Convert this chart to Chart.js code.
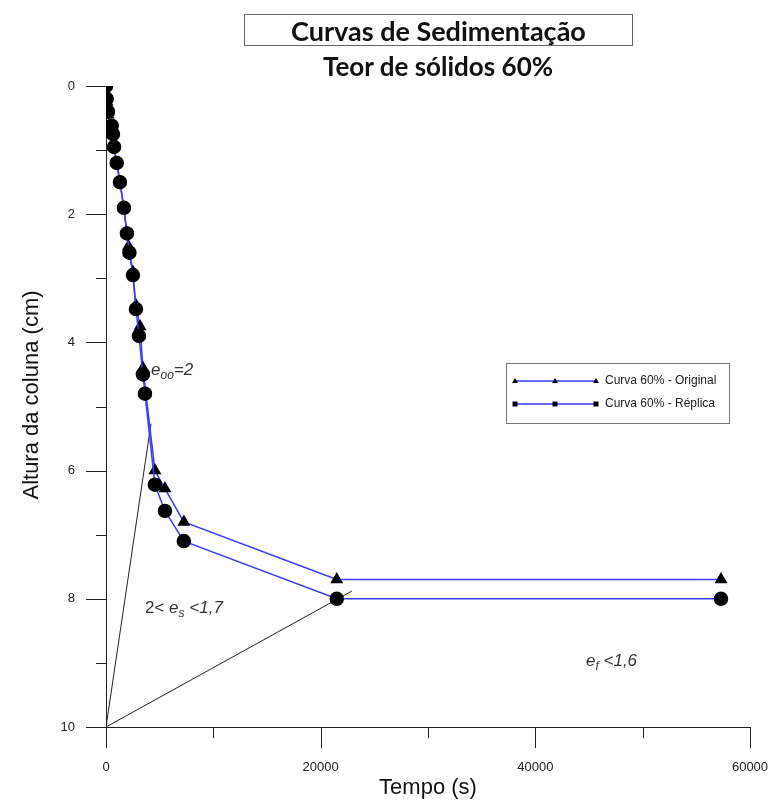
<!DOCTYPE html>
<html lang="pt">
<head>
  <meta charset="UTF-8" />
  <title>Curvas de Sedimentação</title>
  <script src="https://cdn.jsdelivr.net/npm/chart.js"></script>
  <style>
    body { margin: 0; background: #fff; }
    #wrap { position: relative; width: 770px; height: 800px; }
    #chart { position: absolute; left: 0; top: 0; }
    .title-box {
      position: absolute; left: 244px; top: 14px; width: 387px; height: 30px;
      border: 1px solid #666; text-align: center;
      font: bold 27px Lato, "Open Sans", sans-serif; line-height: 31px; color: #111;
    }
    .subtitle {
      position: absolute; left: 243px; top: 51px; width: 390px; text-align: center;
      font: bold 26px Lato, "Open Sans", sans-serif; line-height: 30px; color: #111;
    }
  </style>
</head>
<body>
  <div id="wrap">
    <canvas id="chart" width="770" height="800"></canvas>
    <div class="title-box">Curvas de Sedimentação</div>
    <div class="subtitle">Teor de sólidos 60%</div>
  </div>

  <script>
    // Curva 60% - Original (triangulos)
    const origTime = [0, 100, 200, 560, 700, 1000, 1300, 1650, 1950, 2100, 2500, 2780, 3170, 3440, 4560, 5490, 7250, 21500, 57300];
    const origHeight = [0, 0.25, 0.45, 0.7, 0.95, 1.2, 1.5, 1.9, 2.3, 2.5, 2.9, 3.42, 3.75, 4.4, 6.0, 6.28, 6.8, 7.7, 7.7];

    // Curva 60% - Replica (circulos)
    const repTime = [0, 60, 180, 530, 650, 750, 1000, 1300, 1670, 1950, 2180, 2510, 2790, 3070, 3440, 3630, 4560, 5490, 7250, 21500, 57300];
    const repHeight = [0, 0.2, 0.4, 0.62, 0.75, 0.95, 1.2, 1.5, 1.9, 2.3, 2.6, 2.95, 3.48, 3.9, 4.5, 4.8, 6.22, 6.63, 7.1, 8.0, 8.0];

    // retas auxiliares a partir de (0, 10)
    const steepTime = [0, 4190];
    const steepHeight = [10, 5.27];
    const flatTime = [0, 22900];
    const flatHeight = [10, 7.88];

    const xTicks = [0, 20000, 40000, 60000];
    const yTicks = [0, 2, 4, 6, 8, 10];

    const blue = '#3b3bff';
    const toPts = (xs, ys) => xs.map((x, i) => ({ x: x, y: ys[i] }));

    // ticks, anotacoes e legenda
    const extras = {
      id: 'extras',
      afterDraw(chart) {
        const c = chart.ctx;
        const xs = chart.scales.x, ys = chart.scales.y;
        const x0 = xs.getPixelForValue(0), yB = ys.getPixelForValue(10);
        c.save();
        c.strokeStyle = '#222';
        c.lineWidth = 1;
        c.beginPath();
        for (let v = 0; v <= 10; v++) {
          const p = Math.round(ys.getPixelForValue(v)) + 0.5;
          c.moveTo(x0, p);
          c.lineTo(x0 - (v % 2 === 0 ? 20 : 10), p);
        }
        for (let v = 0; v <= 60000; v += 10000) {
          const p = Math.round(xs.getPixelForValue(v)) + 0.5;
          c.moveTo(p, yB);
          c.lineTo(p, yB + (v % 20000 === 0 ? 21 : 11));
        }
        c.stroke();

        // anotacoes
        c.fillStyle = '#333';
        c.textBaseline = 'alphabetic';
        function rich(parts, x, y) {
          parts.forEach(([txt, sub]) => {
            c.font = sub ? 'italic 12px Arial' : 'italic 17px Arial';
            c.fillText(txt, x, sub ? y + 4 : y);
            x += c.measureText(txt).width;
          });
          return x;
        }
        rich([['e'], ['oo', 1], ['=2']], 151, 375);
        c.font = '17px Arial';
        c.fillText('2< ', 145, 613);
        const px = 145 + c.measureText('2< ').width;
        rich([['e'], ['s', 1], [' <1,7']], px, 613);
        rich([['e'], ['f', 1], [' <1,6']], 586, 666);

        // eixos titulos
        c.font = '22px Arial';
        c.fillStyle = '#111';
        c.textAlign = 'center';
        c.fillText('Tempo (s)', 428, 794);
        c.translate(38, 395);
        c.rotate(-Math.PI / 2);
        c.fillText('Altura da coluna (cm)', 0, 0);
        c.setTransform(1, 0, 0, 1, 0, 0);

        // legenda
        c.textAlign = 'left';
        c.strokeStyle = '#777';
        c.strokeRect(506.5, 363.5, 223, 60);
        const rows = [
          { y: 381, label: 'Curva 60% - Original', style: 'triangle' },
          { y: 404, label: 'Curva 60% - Réplica', style: 'rect' }
        ];
        rows.forEach(r => {
          c.strokeStyle = blue;
          c.lineWidth = 1.5;
          c.beginPath();
          c.moveTo(515, r.y);
          c.lineTo(596, r.y);
          c.stroke();
          c.fillStyle = '#000';
          [515, 555, 596].forEach(mx => {
            if (r.style === 'triangle') {
              c.beginPath();
              c.moveTo(mx, r.y - 3);
              c.lineTo(mx + 3, r.y + 2);
              c.lineTo(mx - 3, r.y + 2);
              c.closePath();
              c.fill();
            } else {
              c.fillRect(mx - 2.5, r.y - 2.5, 5, 5);
            }
          });
          c.fillStyle = '#222';
          c.font = '12px Arial';
          c.textBaseline = 'middle';
          c.fillText(r.label, 605, r.y);
        });
        c.restore();
      }
    };

    new Chart(document.getElementById('chart'), {
      type: 'scatter',
      data: {
        datasets: [
          {
            label: 'Curva 60% - Original',
            data: toPts(origTime, origHeight),
            showLine: true,
            borderColor: blue,
            borderWidth: 1.5,
            pointStyle: 'triangle',
            pointRadius: 6,
            pointBackgroundColor: '#000',
            pointBorderColor: '#000',
            order: 1
          },
          {
            label: 'Curva 60% - Réplica',
            data: toPts(repTime, repHeight),
            showLine: true,
            borderColor: blue,
            borderWidth: 1.5,
            pointStyle: 'circle',
            pointRadius: 6.5,
            pointBackgroundColor: '#000',
            pointBorderColor: '#000',
            order: 0
          },
          {
            data: toPts(steepTime, steepHeight),
            showLine: true,
            borderColor: '#222',
            borderWidth: 1,
            pointRadius: 0,
            order: 5
          },
          {
            data: toPts(flatTime, flatHeight),
            showLine: true,
            borderColor: '#222',
            borderWidth: 1,
            pointRadius: 0,
            order: 5
          }
        ]
      },
      options: {
        responsive: false,
        animation: false,
        layout: { padding: { top: 86, right: 20, left: 0, bottom: 0 } },
        plugins: {
          legend: { display: false },
          tooltip: { enabled: false }
        },
        scales: {
          x: {
            type: 'linear',
            min: 0,
            max: 60000,
            afterFit: s => { s.height = 73; s.paddingLeft = 0; s.paddingRight = 0; },
            afterBuildTicks: s => { s.ticks = xTicks.map(v => ({ value: v })); },
            grid: { display: false, drawTicks: false },
            border: { display: true, color: '#222', width: 1 },
            ticks: {
              padding: 33,
              maxRotation: 0,
              color: '#222',
              font: { family: 'Arial', size: 13 },
              callback: v => String(v)
            }
          },
          y: {
            type: 'linear',
            reverse: true,
            min: 0,
            max: 10,
            afterFit: s => { s.width = 106; s.paddingTop = 0; s.paddingBottom = 0; },
            afterBuildTicks: s => { s.ticks = yTicks.map(v => ({ value: v })); },
            grid: { display: false, drawTicks: false },
            border: { display: true, color: '#222', width: 1 },
            ticks: {
              padding: 31,
              color: '#222',
              font: { family: 'Arial', size: 13 },
              callback: v => String(v)
            }
          }
        }
      },
      plugins: [extras]
    });
  </script>
</body>
</html>
